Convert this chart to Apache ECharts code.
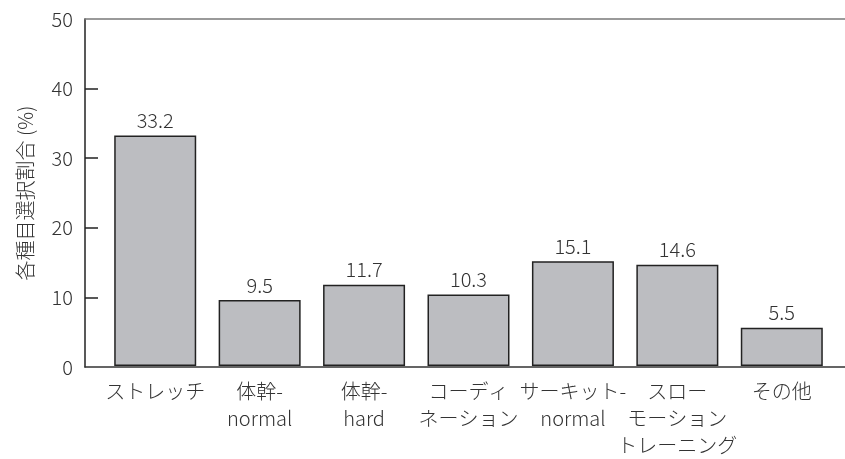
<!DOCTYPE html>
<html>
<head>
<meta charset="utf-8">
<script src="https://cdn.jsdelivr.net/npm/echarts@6/dist/echarts.min.js"></script>
<style>
  html, body { margin: 0; padding: 0; background: #fff; }
  #chart { width: 845px; height: 459px; }
</style>
</head>
<body>
<div id="chart"></div>
<script>
// Categories (multi-line labels) and the share of each event (%)
const categories = [
  'ストレッチ',
  '体幹-\nnormal',
  '体幹-\nhard',
  'コーディ\nネーション',
  'サーキット-\nnormal',
  'スロー\nモーション\nトレーニング',
  'その他'
];
const shares = [33.2, 9.5, 11.7, 10.3, 15.1, 14.6, 5.5];
const yTicks = [0, 10, 20, 30, 40, 50];
const yName = '各種目選択割合 (%)';

const FONT = '"Noto Sans CJK JP", "Noto Sans", sans-serif';
const WEIGHT = 300;
const SIZE = 20;
const TEXT = '#333333';
const yMin = yTicks[0];
const yMax = yTicks[yTicks.length - 1];
const yStep = yTicks[1] - yTicks[0];

const chart = echarts.init(document.getElementById('chart'), null, { renderer: 'canvas' });

chart.setOption({
  animation: false,
  backgroundColor: '#ffffff',
  grid: [
    // bars
    { left: 103, right: 11, top: 19, bottom: 92 },
    // outer frame: value axis, baseline and top rule
    { left: 85, right: 0, top: 19, bottom: 92 }
  ],
  xAxis: [
    {
      type: 'category',
      gridIndex: 0,
      data: categories,
      axisLine: { show: false },
      axisTick: { show: false },
      axisLabel: {
        color: TEXT, fontFamily: FONT, fontWeight: WEIGHT, fontSize: SIZE, lineHeight: 27,
        margin: 12, interval: 0
      }
    },
    {
      type: 'value',
      gridIndex: 1,
      position: 'bottom',
      min: 0, max: 1,
      axisLine: { show: true, onZero: false, lineStyle: { color: '#333333', width: 1.5 } },
      axisTick: { show: false }, axisLabel: { show: false }, splitLine: { show: false }
    },
    {
      type: 'value',
      gridIndex: 1,
      position: 'top',
      min: 0, max: 1,
      axisLine: { show: true, onZero: false, lineStyle: { color: '#7a7a7a', width: 1.5 } },
      axisTick: { show: false }, axisLabel: { show: false }, splitLine: { show: false }
    }
  ],
  yAxis: [
    {
      type: 'value',
      gridIndex: 0,
      min: yMin, max: yMax, interval: yStep,
      show: false
    },
    {
      type: 'value',
      gridIndex: 1,
      min: yMin, max: yMax, interval: yStep,
      name: yName,
      nameLocation: 'middle',
      nameGap: 50,
      nameRotate: 90,
      nameTextStyle: { color: TEXT, fontFamily: FONT, fontWeight: WEIGHT, fontSize: SIZE },
      axisLine: { show: true, lineStyle: { color: '#222222', width: 1.5 } },
      axisTick: {
        show: true, inside: true, length: 13,
        lineStyle: { color: '#222222', width: 1.5 },
        customValues: yTicks.slice(1, -1)
      },
      axisLabel: { color: TEXT, fontFamily: FONT, fontWeight: WEIGHT, fontSize: SIZE, margin: 12 },
      splitLine: { show: false }
    }
  ],
  series: [
    {
      type: 'bar',
      xAxisIndex: 0,
      yAxisIndex: 0,
      data: shares,
      barWidth: 82,
      itemStyle: { color: '#bcbdc1', borderColor: '#222222', borderWidth: 1.5 },
      label: {
        show: true, position: 'top', distance: 5,
        color: TEXT, fontFamily: FONT, fontWeight: WEIGHT, fontSize: SIZE,
        formatter: p => p.value.toFixed(1)
      }
    }
  ]
});
</script>
</body>
</html>
